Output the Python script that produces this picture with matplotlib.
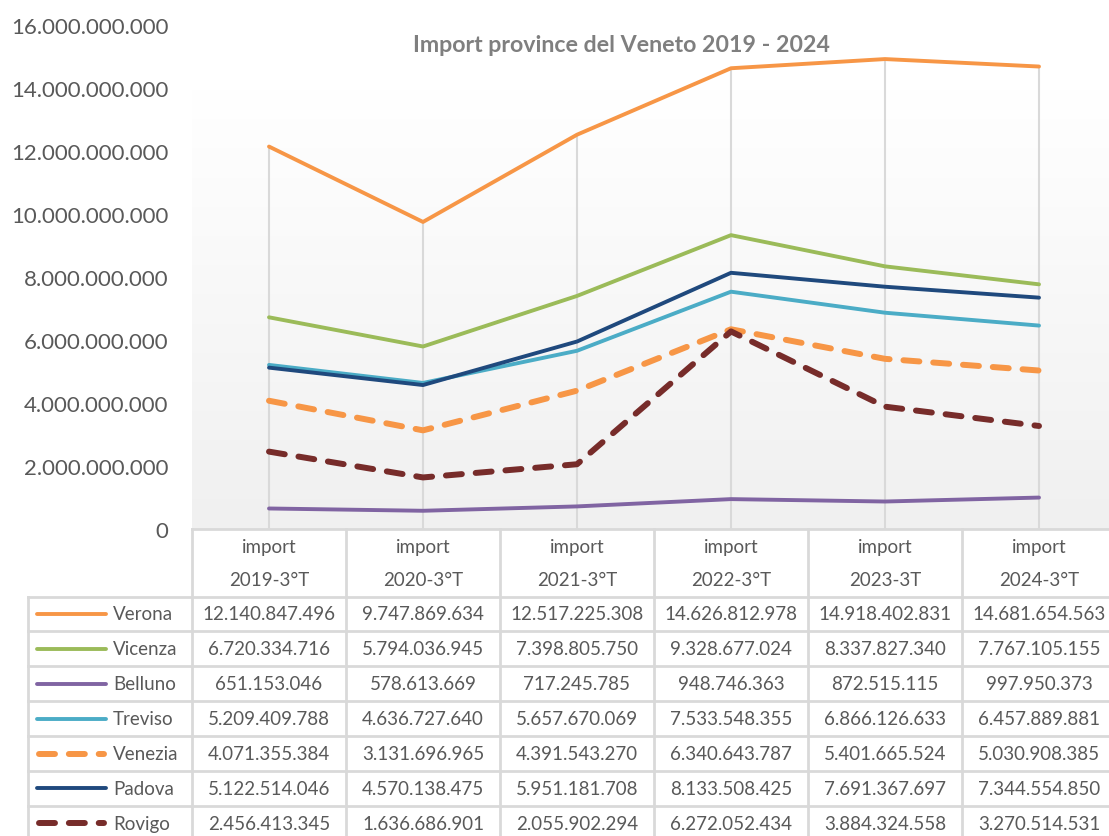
import matplotlib
matplotlib.use("Agg")
import matplotlib.pyplot as plt
import numpy as np
from matplotlib.colors import LinearSegmentedColormap

plt.rcParams['font.family'] = ['Lato', 'DejaVu Sans']
plt.rcParams['lines.scale_dashes'] = False

title = "Import province del Veneto 2019 - 2024"
cat_top = ["import"] * 6
cat_bottom = ["2019-3°T", "2020-3°T", "2021-3°T", "2022-3°T", "2023-3T", "2024-3°T"]

names = ["Verona", "Vicenza", "Belluno", "Treviso", "Venezia", "Padova", "Rovigo"]
verona = [12140847496, 9747869634, 12517225308, 14626812978, 14918402831, 14681654563]
vicenza = [6720334716, 5794036945, 7398805750, 9328677024, 8337827340, 7767105155]
belluno = [651153046, 578613669, 717245785, 948746363, 872515115, 997950373]
treviso = [5209409788, 4636727640, 5657670069, 7533548355, 6866126633, 6457889881]
venezia = [4071355384, 3131696965, 4391543270, 6340643787, 5401665524, 5030908385]
padova = [5122514046, 4570138475, 5951181708, 8133508425, 7691367697, 7344554850]
rovigo = [2456413345, 1636686901, 2055902294, 6272052434, 3884324558, 3270514531]
series = [verona, vicenza, belluno, treviso, venezia, padova, rovigo]

colors = ["#F79646", "#9BBB59", "#8064A2", "#4BACC6", "#F79646", "#1F497D", "#772C2A"]
dashed = [False, False, False, False, True, False, True]

W, H = 1109, 837
fig = plt.figure(figsize=(W / 100, H / 100), dpi=100)

# background / table axes in pixel coordinates
bg = fig.add_axes([0, 0, 1, 1], zorder=0)
bg.set_xlim(0, W)
bg.set_ylim(H, 0)
bg.axis('off')

# plot area geometry (pixels)
px_left, px_right = 192, 1116
px_bottom, px_top = 530, 26
grad_top = 90

cmap = LinearSegmentedColormap.from_list("g", ["#ffffff", "#f0f0f0"])
grad = np.linspace(0, 1, 256).reshape(-1, 1)
bg.imshow(grad, cmap=cmap, extent=[px_left, px_right, px_bottom, grad_top],
          aspect='auto', interpolation='bilinear', zorder=0)
bg.set_xlim(0, W)
bg.set_ylim(H, 0)

ax = fig.add_axes([px_left / W, (H - px_bottom) / H, (px_right - px_left) / W,
                   (px_bottom - px_top) / H], zorder=1)
ax.patch.set_alpha(0)
for s in ax.spines.values():
    s.set_visible(False)
x = np.arange(len(cat_bottom))
ax.set_xlim(-0.5, len(x) - 0.5)
ax.set_ylim(0, 16e9)
ax.set_xticks([])
yt = np.arange(0, 16e9 + 1, 2e9)
ax.set_yticks(yt)
ax.set_yticklabels([f"{int(v):,}".replace(",", ".") for v in yt], fontsize=16, color="#595959")
ax.tick_params(axis='y', length=0, pad=17)
for lbl in ax.get_yticklabels():
    lbl.set_va('center_baseline')

# drop lines
maxv = np.max(np.array(series), axis=0)
ax.vlines(x, 0, maxv, color="#d9d9d9", lw=1.5, zorder=1)

for name, vals, c, d in zip(names, series, colors, dashed):
    if d:
        ax.plot(x, vals, color=c, lw=4.3, dashes=(11.5, 10), dash_capstyle='round',
                solid_capstyle='round', zorder=3)
    else:
        ax.plot(x, vals, color=c, lw=2.8, solid_capstyle='round', zorder=3)

fig.text(621 / W, 1 - 46 / H, title, ha='center', va='center', fontsize=16.7,
         fontweight='bold', color="#7f7f7f")

# table
grid_c = "#d9d9d9"
col_w = (px_right - px_left) / len(x)
col_edges = [px_left + i * col_w for i in range(len(x) + 1)]
row_top = 597.5
row_h = 34.9
n_rows = len(names)
row_edges = [row_top + i * row_h for i in range(n_rows + 1)]
leg_left = 28

# horizontal lines
bg.plot([px_left, px_right], [px_bottom, px_bottom], color=grid_c, lw=2, zorder=2)
for yy in row_edges:
    bg.plot([leg_left, px_right], [yy, yy], color=grid_c, lw=2, zorder=2)
# vertical lines
for xx in col_edges:
    bg.plot([xx, xx], [px_bottom, row_edges[-1]], color=grid_c, lw=2, zorder=2)
bg.plot([leg_left, leg_left], [row_top, row_edges[-1]], color=grid_c, lw=2, zorder=2)

txt_c = "#595959"
for i in range(len(x)):
    cx = col_edges[i] + col_w / 2
    bg.text(cx, 547, cat_top[i], ha='center', va='center', fontsize=13.5, color=txt_c)
    bg.text(cx, 580, cat_bottom[i], ha='center', va='center', fontsize=13.5, color=txt_c)

for r, (name, vals, c, d) in enumerate(zip(names, series, colors, dashed)):
    cy = row_top + r * row_h + row_h / 2
    if d:
        bg.plot([39, 104], [cy, cy], color=c, lw=4.3, dashes=(11.5, 10),
                dash_capstyle='round', zorder=3)
    else:
        bg.plot([37, 106], [cy, cy], color=c, lw=2.8, solid_capstyle='round', zorder=3)
    bg.text(113, cy, name, ha='left', va='center', fontsize=13.5, color=txt_c)
    for i, v in enumerate(vals):
        cx = col_edges[i] + col_w / 2
        bg.text(cx, cy, f"{v:,}".replace(",", "."), ha='center', va='center',
                fontsize=13.5, color=txt_c)

fig.savefig("out.png", dpi=100)
